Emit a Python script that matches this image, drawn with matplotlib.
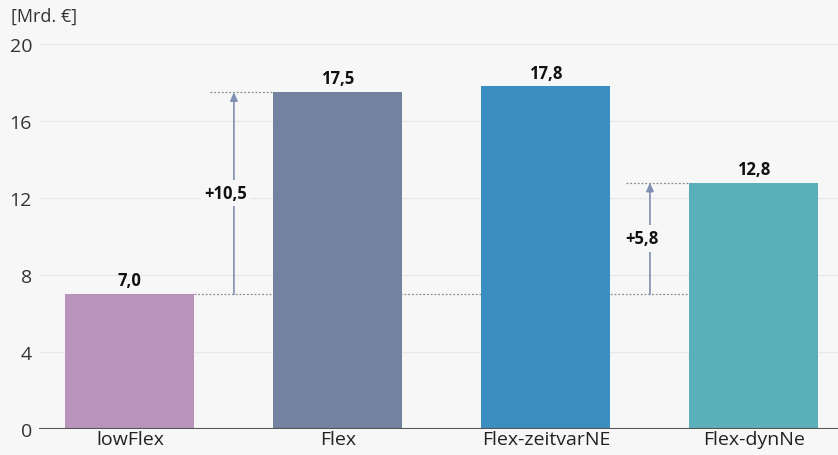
import matplotlib
matplotlib.use("Agg")
import matplotlib.pyplot as plt

categories = ["lowFlex", "Flex", "Flex-zeitvarNE", "Flex-dynNe"]
values = [7.0, 17.5, 17.8, 12.8]
colors = ["#b893bb", "#72829f", "#3a8fc0", "#5aafb9"]
yticks = [0, 4, 8, 12, 16, 20]
unit_label = "[Mrd. €]"

# differences shown by arrows: (from index, to index)
diffs = [(0, 1), (0, 3)]

bg = "#f7f7f7"
plt.rcParams["font.family"] = ["Open Sans", "DejaVu Sans"]

fig = plt.figure(figsize=(8.38, 4.56), dpi=100, facecolor=bg)
ax = fig.add_axes([39 / 838, 26 / 456, 799 / 838, 385 / 456], facecolor=bg)

x = list(range(len(categories)))
bar_w = 0.62
ax.bar(x, values, width=bar_w, color=colors, zorder=2)

ax.set_xlim(-0.437, 3.404)
ax.set_ylim(0, 20)
ax.set_yticks(yticks)
ax.set_yticklabels([str(t) for t in yticks], fontsize=14, color="#333333")
ax.set_xticks(x)
ax.set_xticklabels(categories, fontsize=14, color="#222222")
ax.tick_params(axis="both", length=0)
ax.tick_params(axis="y", pad=5)
ax.tick_params(axis="x", pad=1)
for s in ax.spines.values():
    s.set_visible(False)
ax.grid(axis="y", color="#e8e8e8", linewidth=1, zorder=0)
ax.axhline(0, color="#555555", linewidth=1.5, zorder=3)

for xi, v in zip(x, values):
    ax.text(xi, v + 0.25, f"{v:.1f}".replace(".", ","), ha="center", va="bottom",
            fontsize=12, fontweight="bold", color="#111111")

fig.text(11 / 838, 1 - 17 / 456, unit_label, ha="left", va="center", fontsize=13, color="#333333")

dot_kw = dict(color="#8c8c8c", linewidth=0.9, linestyle=(0, (1.5, 1.5)), zorder=1)
# baseline dotted line from the lowFlex bar to the last bar
ax.plot([bar_w / 2, 3 - bar_w / 2], [values[0], values[0]], **dot_kw)

for i0, i1 in diffs:
    v0, v1 = values[i0], values[i1]
    ax_x = (i1 - 1) + 0.5 if i1 - i0 > 1 else (i0 + i1) / 2
    ax.plot([ax_x - 0.115, i1 - bar_w / 2], [v1, v1], **dot_kw)
    ax.annotate("", xy=(ax_x, v1), xytext=(ax_x, v0),
                arrowprops=dict(arrowstyle="-|>,head_length=0.5,head_width=0.22",
                                color="#7f8fb0", linewidth=1.2, shrinkA=0, shrinkB=0),
                zorder=2)
    d = v1 - v0
    ax.text(ax_x - 0.04, (v0 + v1) / 2, "+" + f"{d:.1f}".replace(".", ","),
            ha="center", va="center", fontsize=12, fontweight="bold", color="#111111",
            bbox=dict(facecolor=bg, edgecolor="none", pad=3), zorder=3)

fig.savefig("out.png", dpi=100, facecolor=bg)
